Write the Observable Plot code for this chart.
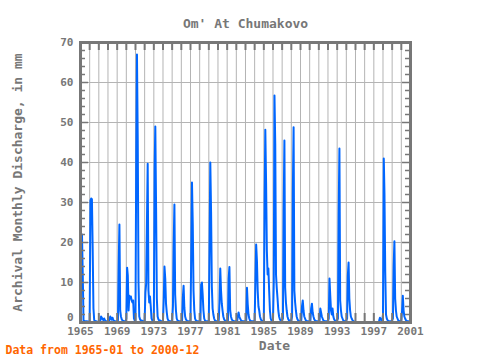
<!DOCTYPE html>
<html><head><meta charset="utf-8">
<script src="https://cdn.jsdelivr.net/npm/d3@7"></script>
<script src="https://cdn.jsdelivr.net/npm/@observablehq/plot@0.6"></script>
<style>body{margin:0;background:#fff}#chart{width:480px;height:360px}</style>
</head><body><div id="chart"></div>
<script>
const title = "Om' At Chumakovo";
const yLabel = "Archival Monthly Discharge, in mm";
const xLabel = "Date";
const footnote = "Data from 1965-01 to 2000-12";
const xTickYears = [1965, 1969, 1973, 1977, 1981, 1985, 1989, 1993, 1997, 2001];
const yTicks = [0, 10, 20, 30, 40, 50, 60, 70];
const N = null;
const years = [1965,1966,1967,1968,1969,1970,1971,1972,1973,1974,1975,1976,1977,1978,1979,1980,1981,1982,
  1983,1984,1985,1986,1987,1988,1989,1990,1991,1992,1993,1994,1995,1996,1997,1998,1999,2000];
// monthly discharge, Jan..Dec, one row per year
const monthly = [
  [3, 14, 22, 12, 0.5, 0.4, 0.3, 0.3, 0.3, 0.3, 0.2, 0.2],
  [0.5, 30.5, 31, 30.8, 18.5, 3.5, 0.6, 0.4, 0.3, 0.3, 0.2, 0.2],
  [0.2, 0.3, 0.5, 1.5, 1.2, 0.8, 0.6, 1.0, 0.6, 0.4, 0.3, 0.2],
  [0.2, 0.3, 0.6, 1.5, 1.1, 0.7, 1.2, 0.6, 0.4, 0.3, 0.3, 0.2],
  [0.3, 0.5, 14, 24.5, 3, 1.5, 0.8, 0.5, 0.4, 0.3, 0.3, 0.2],
  [1, 13.7, 11.7, 3, 6.7, 6, 6.5, 5.5, 5, 5.5, 1, 0.5],
  [0.5, 43, 67, 45.7, 10, 1.5, 0.8, 0.5, 0.5, 0.4, 0.3, 0.3],
  [0.5, 7.5, 9.7, 24.7, 39.7, 8, 5, 6.5, 4, 1, 0.5, 0.3],
  [0.5, 38.5, 49, 28.7, 6, 1.5, 0.8, 0.5, 0.5, 0.4, 0.3, 0.3],
  [0.5, 6, 14, 11, 4.7, 2.5, 1, 0.5, 0.4, 0.3, 0.3, 0.3],
  [0.3, 4, 19, 29.5, 7, 3, 1, 0.5, 0.4, 0.3, 0.3, 0.3],
  [0.3, 0.5, 6.2, 9.2, 3.7, 1.5, 0.8, 0.5, 0.3, 0.3, 0.3, 0.3],
  [0.5, 18, 35, 24.7, 8, 3, 1, 0.5, 0.4, 0.3, 0.3, 0.3],
  [0.3, 0.5, 9.5, 10, 7, 3, 1, 0.5, 0.3, 0.3, 0.3, 0.3],
  [0.5, 21, 40, 27.7, 9, 3.5, 2, 1, 0.5, 0.4, 0.3, 0.3],
  [0.3, 0.5, 5, 13.5, 8, 4.7, 3, 1.5, 0.8, 0.5, 0.4, 0.3],
  [0.3, 0.5, 11, 13.9, 3, 1.5, 0.8, 0.5, 0.4, 0.3, 0.3, 0.3],
  [0.3, 0.3, 1.5, 2.5, 1.5, 1, 0.6, 0.4, 0.3, 0.3, 0.3, 0.3],
  [0.3, 0.5, 8.7, 4.5, 2, 1, 0.5, 0.4, 0.3, 0.3, 0.3, 0.3],
  [0.5, 10.5, 19.5, 15.5, 8, 4, 3, 1.5, 0.8, 0.5, 0.4, 0.3],
  [0.5, 31, 48.2, 35, 18, 12, 13.5, 8, 3, 1, 0.5, 0.5],
  [0.5, 10, 56.75, 44.7, 12, 8.5, 6, 3, 1.5, 0.8, 0.5, 0.5],
  [0.5, 1, 28, 45.5, 8.7, 5, 3, 1.5, 0.8, 0.5, 0.5, 0.3],
  [0.5, 1.5, 32.5, 48.8, 8, 5, 3, 1.5, 0.8, 0.5, 0.4, 0.3],
  [0.3, 0.5, 4, 5.5, 3, 1.5, 1, 0.5, 0.4, 0.3, 0.3, 0.3],
  [0.3, 0.5, 3.5, 4.7, 2.5, 1.5, 0.8, 0.5, 0.4, 0.3, 0.3, 0.3],
  [0.3, 0.5, 3.5, 2.5, 1.5, 1, 0.5, 0.4, 0.3, 0.3, 0.3, 0.3],
  [0.3, 1, 11, 6.7, 3, 2, 3.5, 1.5, 0.8, 0.5, 0.4, 0.3],
  [0.5, 1, 27, 43.5, 5.5, 3, 1.5, 1, 0.5, 0.4, 0.3, 0.3],
  [0.5, 1, 11.7, 15, 6, 3, 1.5, 1, 0.6, 0.4, 0.3, N],
  [N, N, N, N, N, N, N, N, N, N, N, N],
  [N, N, N, N, N, N, N, N, N, N, N, N],
  [N, N, N, N, N, N, N, 0.5, 1.2, 0.8, 0.5, 0.5],
  [2, 41, 32, 12.5, 2, 1, 0.6, 0.4, 0.3, 0.3, 0.3, 0.3],
  [0.5, 1, 14, 20.3, 6, 3, 1.5, 1, 0.5, 0.4, 0.3, 0.3],
  [0.5, 3, 6.7, 3, 1.5, 1, 0.6, 0.4, 0.3, 0.3, 0.3, 0.3]
];

const rows = [];
years.forEach((yr, i) => monthly[i].forEach((v, m) => rows.push({date: new Date(Date.UTC(yr, m, 1)), value: v})));
const yd = y => new Date(Date.UTC(y, 0, 1));
const gridYears = d3.range(1966, 2001).map(yd);
const allYears = d3.range(1965, 2002).map(yd);
const minorY = d3.range(2, 70, 2).filter(v => v % 10 !== 0);
const gray = "#777";
const gridCol = "#b4b4b4";

const chart = Plot.plot({
  width: 480, height: 360,
  marginLeft: 80, marginRight: 70, marginTop: 42, marginBottom: 38,
  style: {fontFamily: "'DejaVu Sans Mono', monospace", fontWeight: "bold", fontSize: "11px", color: gray, background: "#fff"},
  x: {type: "utc", domain: [yd(1965), yd(2001)]},
  y: {domain: [0, 70]},
  marks: [
    Plot.ruleX(gridYears, {stroke: gridCol, strokeWidth: 1}),
    Plot.ruleY([10, 20, 30, 40, 50, 60], {stroke: gridCol, strokeWidth: 1}),
    Plot.line(rows, {x: "date", y: "value", stroke: "#0066ff", strokeWidth: 2}),
    Plot.tickX(allYears, {insetBottom: 272, stroke: gray, strokeWidth: 2}),
    Plot.tickX(allYears, {insetTop: 271, stroke: gray, strokeWidth: 2}),
    Plot.tickY(minorY, {insetRight: 325, stroke: gray, strokeWidth: 1.5}),
    Plot.tickY(minorY, {insetLeft: 325, stroke: gray, strokeWidth: 1.5}),
    Plot.tickY(yTicks, {insetRight: 322, stroke: gray, strokeWidth: 1.5}),
    Plot.tickY(yTicks, {insetLeft: 322, stroke: gray, strokeWidth: 1.5}),
    Plot.frame({stroke: gray, strokeWidth: 3}),
    Plot.axisX(xTickYears.map(yd), {tickSize: 0, tickPadding: 5, tickFormat: d3.utcFormat("%Y"), label: null, fill: gray}),
    Plot.axisY(yTicks.filter(v => v > 0), {tickSize: 0, tickPadding: 7, label: null, fill: gray}),
    Plot.axisY(yTicks.filter(v => v === 0), {tickSize: 0, tickPadding: 7, label: null, fill: gray, dy: -5}),
    Plot.text([title], {frameAnchor: "top", dy: -24, fontSize: 13, fill: gray}),
    Plot.text([yLabel], {frameAnchor: "left", dx: -63, rotate: -90, textAnchor: "middle", fontSize: 13, fill: gray}),
    Plot.text([xLabel], {frameAnchor: "bottom", dx: 29, dy: 27, fontSize: 13, fill: gray}),
    Plot.text([footnote], {frameAnchor: "bottom-left", dx: -75, dy: 31, textAnchor: "start", fontSize: 11.5, fill: "#ff6600"})
  ]
});
document.getElementById("chart").appendChild(chart);
</script>
</body></html>
